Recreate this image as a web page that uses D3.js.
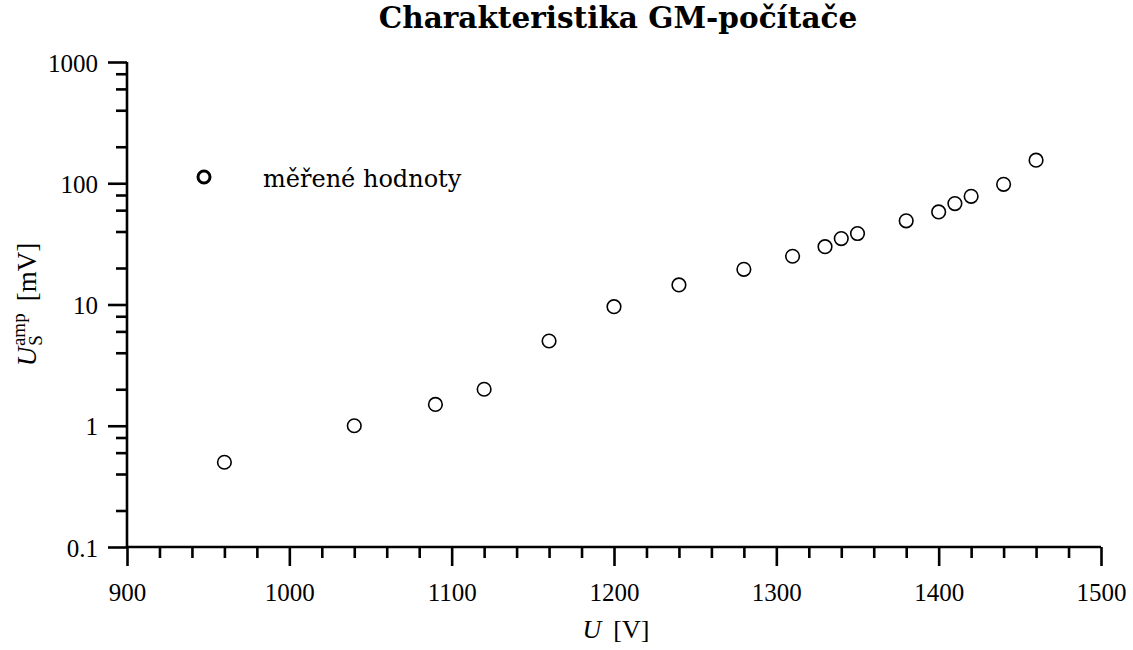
<!DOCTYPE html>
<html>
<head>
<meta charset="utf-8">
<script src="https://cdn.jsdelivr.net/npm/d3@7"></script>
<style>
  body { margin: 0; background: #fff; }
  text { font-family: "Liberation Serif", "DejaVu Serif", serif; fill: #000; }
  text.wide { font-family: "DejaVu Serif", serif; }
</style>
</head>
<body>
<svg id="chart" width="1133" height="650"></svg>
<script>
// measured values (GM counter characteristic)
var voltage = [960, 1040, 1090, 1120, 1160, 1200, 1240, 1280, 1310, 1330, 1340, 1350, 1380, 1400, 1410, 1420, 1440, 1460];
var amplitude = [0.5, 1, 1.5, 2, 5, 9.6, 14.5, 19.5, 25, 30, 35, 38.5, 49, 58, 68, 78, 98, 155];

var xMajor = [900, 1000, 1100, 1200, 1300, 1400, 1500];
var yMajor = [0.1, 1, 10, 100, 1000];
var yTickLabels = ["0.1", "1", "10", "100", "1000"];

var title = "Charakteristika GM-počítače";
var legendLabel = "měřené hodnoty";

var margin = {top: 62, right: 32, bottom: 103, left: 127},
    width = 1133 - margin.left - margin.right,
    height = 650 - margin.top - margin.bottom;

var svg = d3.select("#chart");
var g = svg.append("g")
    .attr("transform", "translate(" + margin.left + "," + margin.top + ")");

var xScale = d3.scaleLinear().domain([900, 1500]).range([0, width]);
var yScale = d3.scaleLog().domain([0.1, 1000]).range([height, 0]);

// minor ticks
var xMinor = d3.range(900, 1501, 20).filter(function(d) { return d % 100 !== 0; });
var yMinor = [];
yMajor.slice(0, -1).forEach(function(d) {
  [2, 4, 6, 8].forEach(function(m) { yMinor.push(d * m); });
});

var xAxis = d3.axisBottom(xScale).tickValues(xMajor).tickSize(19).tickPadding(17)
    .tickFormat(d3.format("d"));
var xAxisMinor = d3.axisBottom(xScale).tickValues(xMinor).tickSize(11).tickFormat("");
var yAxis = d3.axisLeft(yScale).tickValues(yMajor).tickSize(19).tickPadding(10)
    .tickFormat(function(d, i) { return yTickLabels[i]; });
var yAxisMinor = d3.axisLeft(yScale).tickValues(yMinor).tickSize(11).tickFormat("");

var gxm = g.append("g").attr("transform", "translate(0," + height + ")").call(xAxisMinor);
var gx = g.append("g").attr("transform", "translate(0," + height + ")").call(xAxis);
var gym = g.append("g").call(yAxisMinor);
var gy = g.append("g").call(yAxis);

[gx, gxm, gy, gym].forEach(function(a) {
  a.attr("font-family", null).attr("font-size", null);
  a.selectAll("path").attr("stroke", "#000").attr("stroke-width", 2.6);
  a.selectAll("line").attr("stroke", "#000").attr("stroke-width", 2.6);
  a.selectAll("text").attr("font-size", 25).attr("fill", "#000");
});
gxm.select(".domain").remove();
gym.select(".domain").remove();
gx.select(".domain").attr("d", "M0,0H" + width);
gy.select(".domain").attr("d", "M0," + height + "V0");
gy.selectAll("text").attr("dy", "0.36em");

// data points
g.selectAll(".pt")
    .data(voltage)
  .enter().append("circle")
    .attr("class", "pt")
    .attr("cx", function(d) { return xScale(d); })
    .attr("cy", function(d, i) { return yScale(amplitude[i]); })
    .attr("r", 6.8)
    .attr("fill", "none")
    .attr("stroke", "#000")
    .attr("stroke-width", 1.6);

// legend
svg.append("circle")
    .attr("cx", 204).attr("cy", 177).attr("r", 6)
    .attr("fill", "none").attr("stroke", "#000").attr("stroke-width", 3);
svg.append("text")
    .attr("class", "wide")
    .attr("x", 263).attr("y", 187)
    .attr("font-size", 24)
    .text(legendLabel);

// title
svg.append("text")
    .attr("class", "wide")
    .attr("x", margin.left + width / 2 + 4).attr("y", 28)
    .attr("text-anchor", "middle")
    .attr("font-size", 29.5)
    .attr("font-weight", "bold")
    .text(title);

// x label
var xl = svg.append("text")
    .attr("x", margin.left + width / 2 + 2).attr("y", 638)
    .attr("text-anchor", "middle")
    .attr("font-size", 26);
xl.append("tspan").attr("font-style", "italic").text("U");
xl.append("tspan").attr("dx", 12).text("[V]");

// y label
var yl = svg.append("text")
    .attr("transform", "translate(36," + (margin.top + height / 2) + ") rotate(-90)")
    .attr("text-anchor", "middle")
    .attr("font-size", 27);
yl.append("tspan").attr("font-style", "italic").text("U");
yl.append("tspan").attr("font-size", 19).attr("dx", 1).attr("dy", 6).text("S");
yl.append("tspan").attr("font-size", 19).attr("dx", -11).attr("dy", -17).text("amp");
yl.append("tspan").attr("dx", 12).attr("dy", 11).text("[mV]");
</script>
</body>
</html>
